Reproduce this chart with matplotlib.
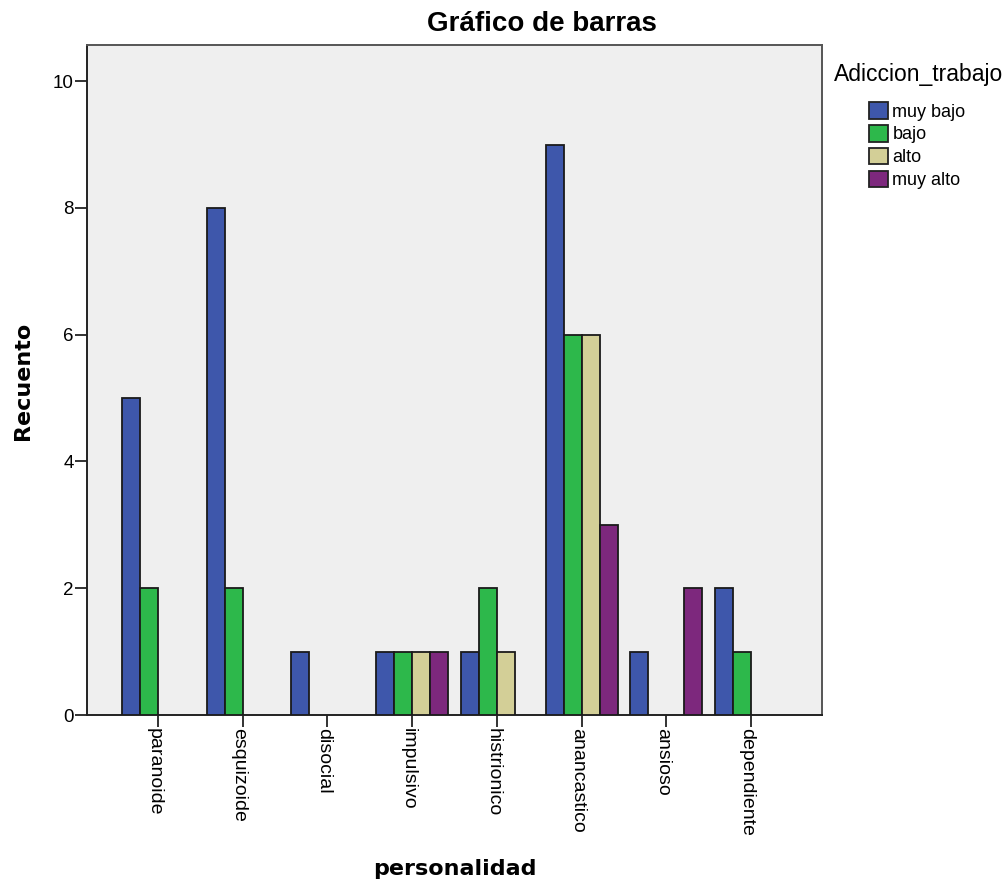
import matplotlib
matplotlib.use("Agg")
import matplotlib.pyplot as plt
import matplotlib.transforms as mtransforms
import numpy as np
from matplotlib.patches import Patch

categories = ["paranoide", "esquizoide", "disocial", "impulsivo",
              "histrionico", "anancastico", "ansioso", "dependiente"]
series_names = ["muy bajo", "bajo", "alto", "muy alto"]
muy_bajo = [5, 8, 1, 1, 1, 9, 1, 2]
bajo = [2, 2, 0, 1, 2, 6, 0, 1]
alto = [0, 0, 0, 1, 1, 6, 0, 0]
muy_alto = [0, 0, 0, 1, 0, 3, 2, 0]
yticks = [0, 2, 4, 6, 8, 10]

colors = ["#3E57AB", "#2DB84B", "#D3CF97", "#7D287D"]
series = [muy_bajo, bajo, alto, muy_alto]

fig = plt.figure(figsize=(10.07, 8.82), dpi=100)
ax = fig.add_axes([87/1007, 1-715/882, (822-87)/1007, (715-45)/882])
ax.set_facecolor("#EFEFEF")

x = np.arange(len(categories))
w = 0.2125
for i, (vals, c) in enumerate(zip(series, colors)):
    vals = np.array(vals, dtype=float)
    xs = x + (i - 1.5) * w
    mask = vals > 0
    ax.bar(xs[mask], vals[mask], width=w, color=c, edgecolor="#1a1a1a",
           linewidth=1.3, zorder=3)

ax.set_xlim(-0.84, len(categories) - 1 + 0.84)
ax.set_ylim(0, 10.57)
ax.set_yticks(yticks)
ax.set_yticklabels([str(t) for t in yticks], fontfamily="Liberation Sans", fontsize=13.5)
ax.set_xticks(x)
ax.tick_params(axis="both", direction="out", length=8.5, width=1.3, color="#222222", pad=1)
ax.set_xticklabels(categories, rotation=-90, fontfamily="Liberation Sans",
                   fontsize=14, ha="center", va="top")
offset = mtransforms.ScaledTranslation(-4/100, 0, fig.dpi_scale_trans)
for lbl in ax.get_xticklabels():
    lbl.set_transform(lbl.get_transform() + offset)
for s in ax.spines.values():
    s.set_linewidth(1.4)
    s.set_color("#555555")
ax.spines["left"].set_color("#222222")
ax.spines["bottom"].set_color("#222222")

fig.text(542/1007, 1-24/882, "Gráfico de barras", ha="center", va="center",
         fontsize=20, fontweight="bold", fontfamily="Liberation Sans")
fig.text(23/1007, 1-381/882, "Recuento", ha="center", va="center", rotation=90,
         fontsize=16, fontweight="bold", fontfamily="DejaVu Sans")
fig.text(455/1007, 1-869/882, "personalidad", ha="center", va="center",
         fontsize=16, fontweight="bold", fontfamily="DejaVu Sans")

fig.text(834/1007, 1-75/882, "Adiccion_trabajo", ha="left", va="center",
         fontsize=16.5, fontfamily="Liberation Sans")
handles = [Patch(facecolor=c, edgecolor="#222222", linewidth=1.3) for c in colors]
fig.legend(handles, series_names, loc="upper left",
           bbox_to_anchor=(869/1007, 1-102/882), frameon=False,
           prop={"family": "Liberation Sans", "size": 13},
           handlelength=1.05, handleheight=1.05, handletextpad=0.25,
           labelspacing=0.24, borderaxespad=0, borderpad=0)

fig.savefig("out.png", dpi=100)
